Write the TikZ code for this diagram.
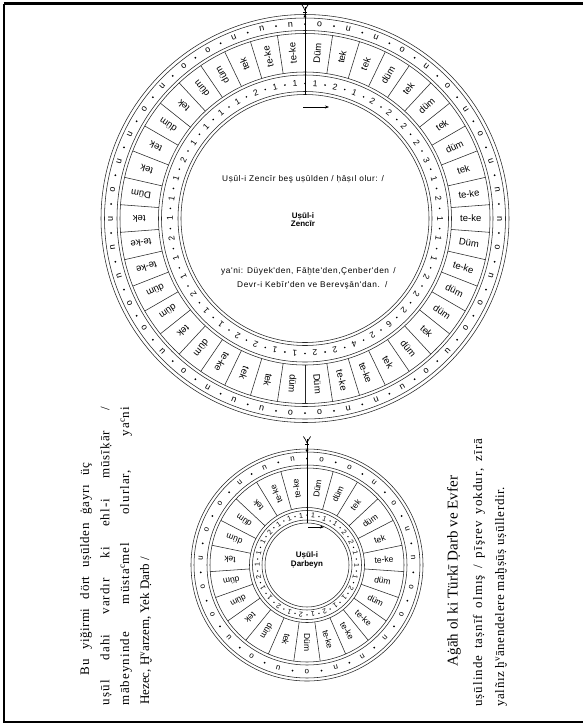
\documentclass[tikz,border=0pt]{standalone}
\usepackage{fontspec}
\setmainfont{Liberation Serif}
\newfontfamily\circfont{Liberation Sans}
\usetikzlibrary{arrows.meta}
\tikzset{
  ring/.style={line width=0.55pt, draw=black!85},
  word/.style={font=\circfont\fontsize{9.5}{10}\selectfont, inner sep=0pt},
  sword/.style={font=\circfont\fontsize{8.5}{9}\selectfont, inner sep=0pt},
  num/.style={font=\circfont\fontsize{8.5}{9}\selectfont, inner sep=0pt},
  snum/.style={font=\circfont\fontsize{7}{8}\selectfont, inner sep=0pt},
  sym/.style={font=\circfont\fontsize{9}{9}\selectfont, inner sep=0pt},
  ssym/.style={font=\circfont\fontsize{8}{8}\selectfont, inner sep=0pt},
  ctxt/.style={font=\circfont\fontsize{8.3}{9}\selectfont\addfontfeature{LetterSpace=7}, inner sep=0pt},
  ctitle/.style={font=\circfont\bfseries\fontsize{8}{10}\selectfont, inner sep=0pt, align=center},
  ltxt/.style={font=\fontsize{13}{14}\selectfont, inner sep=0pt, rotate=90},
  rtxt/.style={font=\fontsize{13}{14}\selectfont, inner sep=0pt, rotate=90},
  pointer/.style={line width=0.7pt},
  dirarrow/.style={line width=0.6pt, -{Stealth[length=4pt,width=3pt]}}
}
\begin{document}
\begin{tikzpicture}[x=1pt,y=-1pt]
\useasboundingbox (0,0) rectangle (583,724);
\fill[white] (0,0) rectangle (583,724);
% frame
\draw[line width=2.6pt] (3.5,3.5) -- (583,3.5);
\draw[line width=1.2pt] (4,3.5) -- (4,722) -- (583,722);

% ================= big circle: Zencir =================
\begin{scope}[shift={(305,218.5)}, x=1pt, y=1pt]
  \foreach \r in {204,200.5,188,185,146.5,143.5,127,124} \draw[ring] (0,0) circle (\r);
  \foreach \i in {0,...,41} {
    \pgfmathsetmacro\a{90-\i*360/42}
    \draw[ring] (\a:146.5) -- (\a:185);
    \fill (\a:194.5) circle (1pt);
    \fill (\a:135) circle (0.9pt);
  }
  \foreach \w/\s/\n [count=\i from 0] in {
    Düm/o/1, tek/u/2, tek/u/1, düm/o/2, tek/u/2, düm/o/2, tek/u/2, düm/o/3, tek/u/1, te-ke/n/2,
    te-ke/n/1, Düm/o/1, te-ke/n/1, düm/o/2, düm/o/2, tek/u/2, düm/o/6, tek/u/2, te-ke/n/4, te-ke/n/2,
    Düm/o/2, düm/o/1, tek/u/1, tek/u/2, te-ke/n/2, düm/o/1, tek/u/1, düm/o/2, düm/o/1, te-ke/n/1,
    te-ke/n/2, tek/u/1, Düm/o/1, tek/u/1, tek/u/2, düm/o/1, tek/u/1, düm/o/1, düm/o/1, tek/u/2,
    te-ke/n/1, te-ke/n/1} {
    \pgfmathsetmacro\a{90-(\i+0.5)*360/42}
    \node[word, rotate=\a] (bw\i) at (\a:165.8) {\w};
    \node[sym, rotate=\a-90] (bs\i) at (\a:194.5) {\s};
    \node[num, rotate=\a-90] (bn\i) at (\a:135) {\n};
  }
  % pointer
  \draw[pointer] (0,124) -- (0,212);
  \fill (0,202.3) circle (1.3pt);
  \draw[pointer] (0,208) .. controls (0,211) and (-2.5,211) .. (-3.6,214.5);
  \draw[pointer] (0,208) .. controls (0,211) and (2.5,211) .. (3.6,214.5);
  \draw[pointer] (-2,206.5) -- (2,206.5);
  \coordinate (ba1) at (-2,111.5);
  \coordinate (ba2) at (24,111.5);
  \draw[dirarrow] (ba1) -- (ba2);
  % centre texts
  \node[ctxt, anchor=west] (bt1) at (-83,39) {Uṣūl-i Zencīr beş uṣūlden / ḥāṣıl olur: /};
  \node[ctitle] (bt2) at (-2,-1) {Uṣūl-i\\[-1.5pt]Zencīr};
  \node[ctxt, anchor=west] (bt3) at (-84,-52.5) {ya'ni: Düyek'den, Fāḫte'den,Çenber'den \,/};
  \node[ctxt, anchor=west] (bt4) at (-68,-66.5) {Devr-i Kebīr'den ve Berevşān'dan. \,/};
\end{scope}

% ================= small circle: Darbeyn =================
\begin{scope}[shift={(307,565)}, x=1pt, y=1pt]
  \foreach \r in {116,113,100,97,57.5,54.5,45,42} \draw[ring] (0,0) circle (\r);
  \foreach \i in {0,...,22} {
    \pgfmathsetmacro\a{90-\i*360/23}
    \draw[ring] (\a:57.5) -- (\a:97);
    \fill (\a:106.5) circle (1pt);
  }
  \foreach \w/\s [count=\i from 0] in {
    Düm/o, düm/o, tek/u, düm/o, tek/u, te-ke/n, düm/o, düm/o, te-ke/n, te-ke/n,
    te-ke/n, Düm/o, tek/u, düm/o, tek/u, düm/o, düm/o, tek/u, düm/o, düm/o,
    tek/u, te-ke/n, te-ke/n} {
    \pgfmathsetmacro\a{90-(\i+0.5)*360/23}
    \node[sword, rotate=\a] (sw\i) at (\a:77.2) {\w};
    \node[ssym, rotate=\a-90] (ss\i) at (\a:106.5) {\s};
  }
  \foreach \n [count=\i from 0] in {1,1,1,2,2,1,1,1,2,1,1,2,1,2,1,2,1,1,2,1,1,1,2,1,1,1} {
    \pgfmathsetmacro\a{90-(\i+0.5)*360/26}
    \pgfmathsetmacro\b{90-\i*360/26}
    \node[snum, rotate=\a-90] (sn\i) at (\a:49.8) {\n};
    \fill (\b:49.8) circle (0.75pt);
  }
  % pointer
  \draw[pointer] (0,42) -- (0,126);
  \fill (0,114.5) circle (1.3pt);
  \draw[pointer] (0,122) .. controls (0,125) and (-2.5,125) .. (-3.6,128.5);
  \draw[pointer] (0,122) .. controls (0,125) and (2.5,125) .. (3.6,128.5);
  \draw[pointer] (-2,120.5) -- (2,120.5);
  \coordinate (sa1) at (1,38);
  \coordinate (sa2) at (17,38);
  \draw[dirarrow] (sa1) -- (sa2);
  \node[ctitle] (st1) at (0,5) {Uṣūl-i\\[-1.5pt]Ḍarbeyn};
\end{scope}

% ================= side texts =================
\node[ltxt] (l1) at (86,569) {\addfontfeature{LetterSpace=4}\makebox[212pt][s]{Bu yiğirmi dört uṣūlden ġayrı üç}};
\node[ltxt] (l2) at (106,556) {\addfontfeature{LetterSpace=8}\makebox[298pt][s]{uṣūl dahi vardır ki ehl-i mūsīḳār /}};
\node[ltxt] (l3) at (126,556) {\addfontfeature{LetterSpace=8}\makebox[298pt][s]{mābeyninde müsta\textsuperscript{c}mel olurlar, ya\textsuperscript{c}ni}};
\node[ltxt, anchor=west] (l4) at (146,705) {Hezec, Ḫ\textsuperscript{v}arzem, Yek Ḍarb /};

\node[rtxt, font=\fontsize{15}{16}\selectfont] (r1) at (454,571) {\makebox[190pt][s]{Aġāh ol ki Türkī Ḍarb ve Evfer}};
\node[rtxt, anchor=west] (r2) at (479,707) {\addfontfeature{LetterSpace=8}\makebox[268pt][s]{uṣūlinde taṣnīf olmış / pīşrev yokdur, zīrā}};
\node[rtxt, anchor=west] (r3) at (501,707) {\addfontfeature{LetterSpace=5}\makebox[220pt][s]{yalñız ḫ\textsuperscript{v}ānendelere maḫṣūṣ uṣūllerdir.}};
\end{tikzpicture}
\end{document}
